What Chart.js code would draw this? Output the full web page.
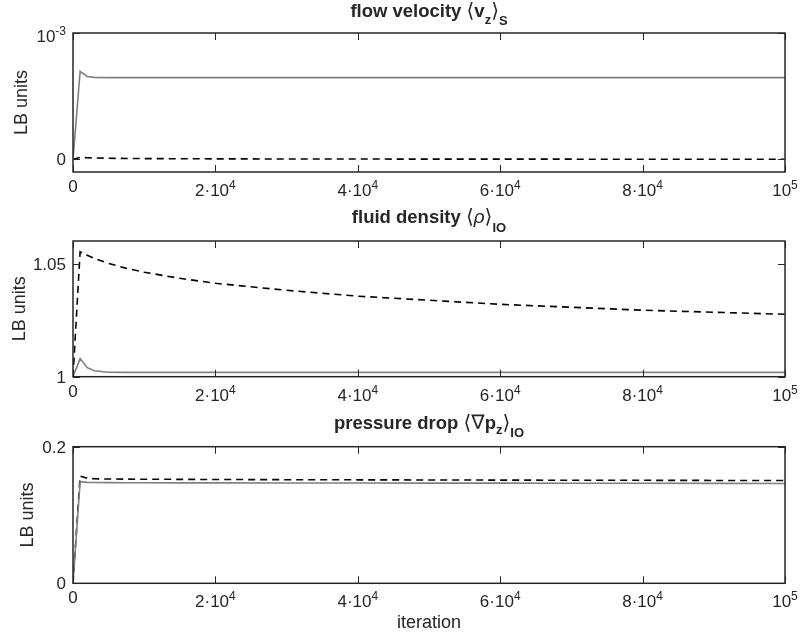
<!DOCTYPE html>
<html>
<head>
<meta charset="utf-8">
<script src="https://cdn.jsdelivr.net/npm/chart.js@4.4.0/dist/chart.umd.min.js"></script>
<style>
html, body { margin: 0; padding: 0; background: #fff; }
#wrap { position: relative; width: 800px; height: 636px; }
canvas { position: absolute; left: 0; }
</style>
</head>
<body>
<div id="wrap">
  <canvas id="chartVelocity" width="800" height="205" style="top:0px"></canvas>
  <canvas id="chartDensity" width="800" height="205" style="top:205px"></canvas>
  <canvas id="chartPressure" width="800" height="226" style="top:410px"></canvas>
</div>
<script>
// Datos (iteraciones LB)
const ITERATIONS = [0, 1000, 2000, 3000, 5000, 7500, 10000, 15000, 20000, 30000, 40000, 50000, 60000, 70000, 80000, 90000, 100000];

const VELOCITY_SOLID  = [0, 6.95e-4, 6.56e-4, 6.49e-4, 6.47e-4, 6.47e-4, 6.47e-4, 6.47e-4, 6.47e-4, 6.47e-4, 6.47e-4, 6.47e-4, 6.47e-4, 6.47e-4, 6.47e-4, 6.47e-4, 6.47e-4];
const VELOCITY_DASHED = [0, 1.5e-5, 1.3e-5, 1.1e-5, 9e-6, 7e-6, 6e-6, 5e-6, 4e-6, 3e-6, 2.5e-6, 2e-6, 1.8e-6, 1.5e-6, 1.3e-6, 1.1e-6, 1e-6];

const DENSITY_SOLID  = [1.000, 1.0080, 1.0040, 1.0026, 1.0020, 1.0019, 1.0019, 1.0019, 1.0019, 1.0019, 1.0019, 1.0019, 1.0019, 1.0019, 1.0019, 1.0019, 1.0019];
const DENSITY_DASHED = [1.000, 1.0552, 1.0537, 1.0523, 1.0501, 1.0479, 1.0462, 1.0435, 1.0413, 1.0382, 1.0356, 1.0338, 1.0320, 1.0307, 1.0294, 1.0285, 1.0276];

const PRESSURE_SOLID  = [0, 0.1487, 0.1478, 0.1475, 0.1474, 0.1473, 0.1472, 0.1471, 0.1470, 0.1469, 0.1468, 0.1467, 0.1466, 0.1465, 0.1464, 0.1463, 0.1462];
const PRESSURE_DASHED = [0, 0.1571, 0.1537, 0.1530, 0.1527, 0.1525, 0.1524, 0.1522, 0.1520, 0.1517, 0.1515, 0.1513, 0.1511, 0.1509, 0.1508, 0.1506, 0.1505];

// Ticks: [base, exponente]
const X_TICKS = [0, 20000, 40000, 60000, 80000, 100000];
const X_TICK_LABELS = [['0', ''], ['2·10', '4'], ['4·10', '4'], ['6·10', '4'], ['8·10', '4'], ['10', '5']];

const VELOCITY_Y_TICKS = [0, 1e-3];
const VELOCITY_Y_LABELS = [['0', ''], ['10', '-3']];
const DENSITY_Y_TICKS = [1, 1.05];
const DENSITY_Y_LABELS = [['1', ''], ['1.05', '']];
const PRESSURE_Y_TICKS = [0, 0.2];
const PRESSURE_Y_LABELS = [['0', ''], ['0.2', '']];

const FONT = '"Liberation Sans", Arial, "DejaVu Sans", sans-serif';
const TEXT_COLOR = '#262626';
const AXIS_COLOR = '#262626';
const SOLID_COLOR = '#7f7f7f';
const TICK_LEN = 7;

Chart.defaults.font.family = FONT;
Chart.defaults.color = TEXT_COLOR;

// dibuja texto con partes (superindices / subindices)
function drawRich(ctx, parts, x, y, align) {
    let total = 0;
    parts.forEach(p => { ctx.font = p.font; p.w = ctx.measureText(p.t).width; total += p.w; });
    let cx = align === 'center' ? x - total / 2 : (align === 'right' ? x - total : x);
    ctx.textAlign = 'left';
    ctx.textBaseline = 'alphabetic';
    parts.forEach(p => {
        ctx.font = p.font;
        ctx.fillText(p.t, cx, y + (p.dy || 0));
        cx += p.w;
    });
}

function tickParts(label) {
    const parts = [{ t: label[0], font: '17px ' + FONT }];
    if (label[1]) parts.push({ t: label[1], font: '12px ' + FONT, dy: -7 });
    return parts;
}

function axesDecor(cfg) {
    return {
        id: 'axesDecor',
        afterDraw(chart) {
            const ctx = chart.ctx;
            const a = chart.chartArea;
            const sx = chart.scales.x, sy = chart.scales.y;
            ctx.save();
            ctx.strokeStyle = AXIS_COLOR;
            ctx.lineWidth = 1;
            ctx.beginPath();
            X_TICKS.forEach(v => {
                const px = Math.round(sx.getPixelForValue(v)) + 0.5;
                ctx.moveTo(px, a.bottom); ctx.lineTo(px, a.bottom - TICK_LEN);
                ctx.moveTo(px, a.top); ctx.lineTo(px, a.top + TICK_LEN);
            });
            cfg.yTicks.forEach(v => {
                const py = Math.round(sy.getPixelForValue(v)) + 0.5;
                ctx.moveTo(a.left, py); ctx.lineTo(a.left + TICK_LEN, py);
                ctx.moveTo(a.right, py); ctx.lineTo(a.right - TICK_LEN, py);
            });
            ctx.stroke();
            ctx.lineWidth = 1.5;
            ctx.strokeRect(a.left, a.top, a.right - a.left, a.bottom - a.top);

            ctx.fillStyle = TEXT_COLOR;
            X_TICKS.forEach((v, i) => {
                const lab = X_TICK_LABELS[i];
                const base = a.bottom + (lab[1] ? 24 : 20);
                drawRich(ctx, tickParts(lab), sx.getPixelForValue(v), base, 'center');
            });
            cfg.yTicks.forEach((v, i) => {
                const lab = cfg.yLabels[i];
                const py = sy.getPixelForValue(v);
                drawRich(ctx, tickParts(lab), a.left - 7, py + (lab[1] ? 9 : 6), 'right');
            });

            // titulo
            drawRich(ctx, cfg.title, (a.left + a.right) / 2, cfg.titleY, 'center');

            // etiqueta eje y
            ctx.save();
            ctx.translate(cfg.yLabelX, (a.top + a.bottom) / 2);
            ctx.rotate(-Math.PI / 2);
            ctx.font = '18px ' + FONT;
            ctx.textAlign = 'center';
            ctx.textBaseline = 'alphabetic';
            ctx.fillText('LB units', 0, 0);
            ctx.restore();

            if (cfg.xLabel) {
                ctx.font = '18px ' + FONT;
                ctx.textAlign = 'center';
                ctx.fillText(cfg.xLabel, (a.left + a.right) / 2, cfg.xLabelY);
            }
            ctx.restore();
        }
    };
}

function toPoints(vals) {
    return ITERATIONS.map((x, i) => ({ x: x, y: vals[i] }));
}

function crearGrafica(id, cfg) {
    const ctx = document.getElementById(id);
    new Chart(ctx, {
        type: 'line',
        data: {
            datasets: [
                { data: toPoints(cfg.solid), borderColor: SOLID_COLOR, borderWidth: 1.6, pointRadius: 0, tension: 0 },
                { data: toPoints(cfg.dashed), borderColor: '#000000', borderWidth: 1.6, borderDash: [7, 5], pointRadius: 0, tension: 0 }
            ]
        },
        options: {
            responsive: false,
            animation: false,
            devicePixelRatio: 1,
            layout: { padding: { left: 0, right: 15, top: cfg.padTop, bottom: 0 } },
            plugins: { legend: { display: false }, tooltip: { enabled: false } },
            scales: {
                x: {
                    type: 'linear', min: 0, max: 100000,
                    ticks: { display: false }, grid: { display: false }, border: { display: false },
                    afterFit: s => { s.height = cfg.xHeight; }
                },
                y: {
                    min: cfg.yMin, max: cfg.yMax,
                    ticks: { display: false }, grid: { display: false }, border: { display: false },
                    afterFit: s => { s.width = 73; }
                }
            }
        },
        plugins: [axesDecor(cfg)]
    });
}

const B = 'bold 18.5px ' + FONT;
const SUB = 'bold 13px ' + FONT;
const BR = '20px "DejaVu Sans", ' + FONT;

crearGrafica('chartVelocity', {
    solid: VELOCITY_SOLID, dashed: VELOCITY_DASHED,
    yMin: -1e-4, yMax: 1e-3, yTicks: VELOCITY_Y_TICKS, yLabels: VELOCITY_Y_LABELS,
    padTop: 33, xHeight: 33, yLabelX: 27, titleY: 17,
    title: [{ t: 'flow velocity ', font: B }, { t: '⟨', font: BR }, { t: 'v', font: B }, { t: 'z', font: SUB, dy: 7 }, { t: '⟩', font: BR }, { t: 'S', font: SUB, dy: 8 }]
});

crearGrafica('chartDensity', {
    solid: DENSITY_SOLID, dashed: DENSITY_DASHED,
    yMin: 1, yMax: 1.06, yTicks: DENSITY_Y_TICKS, yLabels: DENSITY_Y_LABELS,
    padTop: 36, xHeight: 33.3, yLabelX: 25, titleY: 18.3,
    title: [{ t: 'fluid density ', font: B }, { t: '⟨', font: BR }, { t: 'ρ', font: 'italic 19px ' + FONT }, { t: '⟩', font: BR }, { t: 'IO', font: SUB, dy: 9 }]
});

crearGrafica('chartPressure', {
    solid: PRESSURE_SOLID, dashed: PRESSURE_DASHED,
    yMin: 0, yMax: 0.2, yTicks: PRESSURE_Y_TICKS, yLabels: PRESSURE_Y_LABELS,
    padTop: 36.7, xHeight: 52.7, yLabelX: 33, titleY: 19.3,
    xLabel: 'iteration', xLabelY: 218,
    title: [{ t: 'pressure drop ', font: B }, { t: '⟨', font: BR }, { t: '∇', font: BR }, { t: 'p', font: B }, { t: 'z', font: SUB, dy: 5 }, { t: '⟩', font: BR }, { t: 'IO', font: SUB, dy: 8 }]
});
</script>
</body>
</html>
